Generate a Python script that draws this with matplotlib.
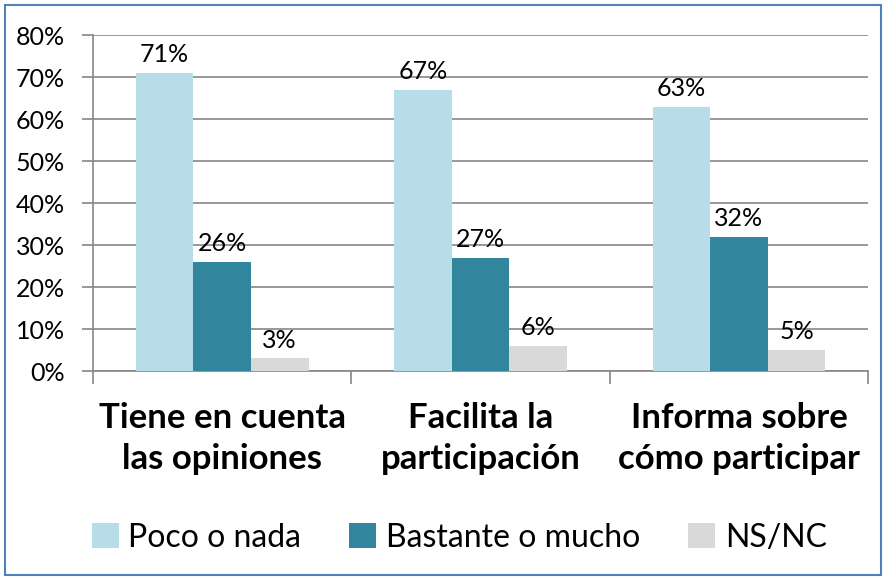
import matplotlib.pyplot as plt
import numpy as np
from matplotlib.patches import Rectangle
from matplotlib.ticker import FuncFormatter

plt.rcParams['font.family'] = ['Lato', 'DejaVu Sans']

categories = ['Tiene en cuenta\nlas opiniones', 'Facilita la\nparticipación', 'Informa sobre\ncómo participar']
series_names = ['Poco o nada', 'Bastante o mucho', 'NS/NC']
poco = [71, 67, 63]
bastante = [26, 27, 32]
nsnc = [3, 6, 5]
colors = ['#B7DDE8', '#31859C', '#D9D9D9']

fig = plt.figure(figsize=(8.85, 5.77), dpi=100)
ax = fig.add_axes([0.105, 0.357, 0.876, 0.582])

x = np.arange(len(categories))
w = 0.223
for i, (vals, name, col) in enumerate(zip([poco, bastante, nsnc], series_names, colors)):
    bars = ax.bar(x + (i - 1) * w, vals, width=w, color=col, label=name, zorder=3)
    for b, v in zip(bars, vals):
        ax.text(b.get_x() + b.get_width() / 2, v + 1.6, f'{v}%', ha='center', va='bottom',
                fontsize=18, color='#000000', zorder=4)

ax.set_xlim(-0.5, 2.5)
ax.set_ylim(0, 80)
ax.set_yticks(range(0, 81, 10))
ax.yaxis.set_major_formatter(FuncFormatter(lambda v, p: f'{int(v)}%'))
ax.tick_params(axis='y', labelsize=18, length=8, width=1.2, color='#868686', pad=12)
ax.grid(axis='y', color='#868686', linewidth=1.2, zorder=0)

ax.set_xticks(x)
ax.set_xticklabels(categories, fontsize=25, fontweight='bold', linespacing=1.38)
ax.tick_params(axis='x', length=0, pad=22)
ax.set_xticks([-0.5, 0.5, 1.5, 2.5], minor=True)
ax.tick_params(axis='x', which='minor', length=9, width=1.2, color='#868686')

for s in ['top', 'right']:
    ax.spines[s].set_visible(False)
for s in ['left', 'bottom']:
    ax.spines[s].set_color('#868686')
    ax.spines[s].set_linewidth(1.2)

ax.legend(loc='center', bbox_to_anchor=(0.519, 0.068), bbox_transform=fig.transFigure, ncol=3,
          frameon=False, fontsize=23, handlelength=0.85, handleheight=0.85, handletextpad=0.3,
          columnspacing=1.5)

fig.patches.append(Rectangle((0.006, 0.004), 0.99, 0.988, transform=fig.transFigure,
                             fill=False, edgecolor='#4F81BD', linewidth=1.5))

fig.savefig('out.png', dpi=100)
